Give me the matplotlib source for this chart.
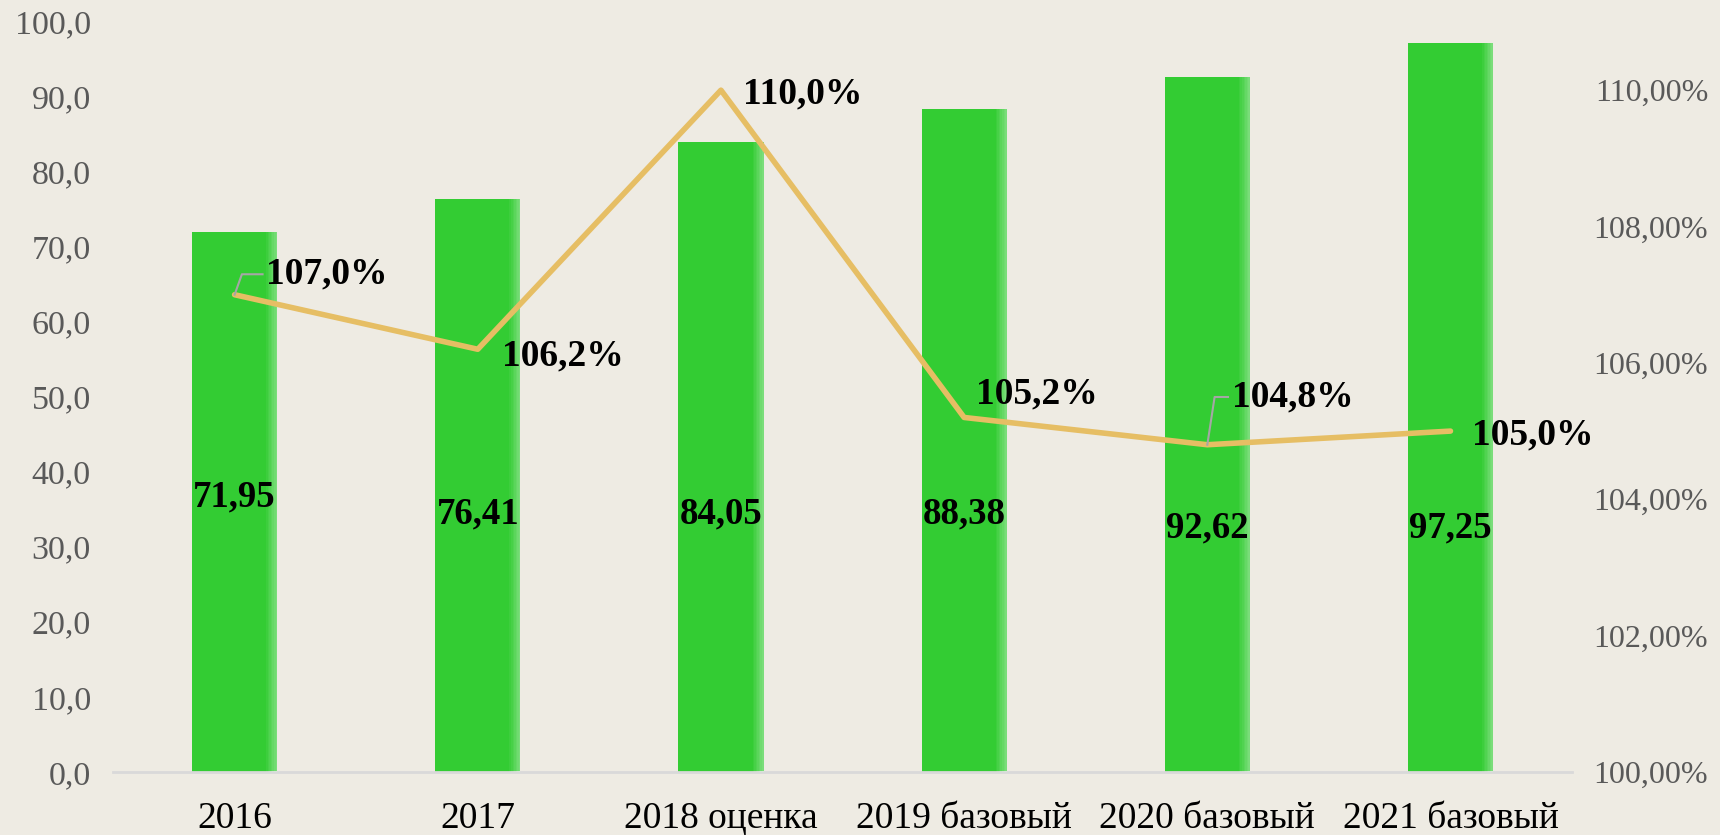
import matplotlib
matplotlib.use("Agg")
import matplotlib.pyplot as plt
from matplotlib.ticker import FuncFormatter, MultipleLocator

# data
categories = ["2016", "2017", "2018 оценка", "2019 базовый", "2020 базовый", "2021 базовый"]
volumes = [71.95, 76.41, 84.05, 88.38, 92.62, 97.25]
growth = [107.0, 106.2, 110.0, 105.2, 104.8, 105.0]

# where the labels sit (layout only)
bar_label_y = [36.7, 34.4, 34.4, 34.4, 32.5, 32.5]
growth_label_off = [(0.13, 0.3), (0.1, -0.1), (0.09, -0.05), (0.05, 0.35), (0.1, 0.7), (0.09, -0.05)]
leader = [True, False, False, False, True, False]

bg = "#EEEBE3"
green = "#33CC33"
gold = "#E6BE64"
tick_grey = "#595959"

plt.rcParams["font.family"] = ["Liberation Serif", "DejaVu Serif"]

fig = plt.figure(figsize=(17.2, 8.35), dpi=100)
fig.patch.set_facecolor(bg)
ax = fig.add_axes([0.0657, 0.0754, 0.914 - 0.0657, 0.9737 - 0.0754])
ax.set_facecolor(bg)

x = list(range(len(categories)))
w = 0.35
ax.bar(x, volumes, width=w, color=green, zorder=2)

# soft glow on the right edge of each bar
steps = 7
strip = 0.045 / steps
for i, v in enumerate(volumes):
    for k in range(steps):
        left = i + w / 2 - (steps - k) * strip
        ax.bar(left, v, width=strip, align="edge", color="white",
               alpha=0.05 + 0.05 * k, linewidth=0, zorder=3)

for i, v in enumerate(volumes):
    ax.text(i, bar_label_y[i], f"{v:.2f}".replace(".", ","), ha="center", va="center",
            fontsize=26.5, fontweight="bold", color="black", zorder=6)

ax.set_xlim(-0.5, len(categories) - 0.5)
ax.set_ylim(0, 100)
ax.yaxis.set_major_locator(MultipleLocator(10))
ax.yaxis.set_major_formatter(FuncFormatter(lambda v, p: f"{v:.1f}".replace(".", ",")))
ax.set_xticks(x)
ax.set_xticklabels(categories, fontsize=27, color="black")
ax.tick_params(axis="x", length=0, pad=21)
ax.tick_params(axis="y", length=0, labelsize=24.5, labelcolor=tick_grey, pad=16)
for s in ["top", "right", "left"]:
    ax.spines[s].set_visible(False)
ax.spines["bottom"].set_color("#D9D9D9")
ax.spines["bottom"].set_linewidth(2)

ax2 = ax.twinx()
ax2.plot(x, growth, color=gold, linewidth=4, zorder=5, solid_capstyle="round")
ax2.set_ylim(100, 111)
ax2.set_yticks([100, 102, 104, 106, 108, 110])
ax2.yaxis.set_major_formatter(FuncFormatter(lambda v, p: f"{v:.2f}".replace(".", ",") + "%"))
ax2.tick_params(axis="y", length=0, labelsize=23, labelcolor=tick_grey, pad=98)
for lbl in ax2.get_yticklabels():
    lbl.set_horizontalalignment("right")
for s in ax2.spines.values():
    s.set_visible(False)

for i, g in enumerate(growth):
    dx, dy = growth_label_off[i]
    tx, ty = i + dx, g + dy
    ax2.text(tx, ty, f"{g:.1f}".replace(".", ",") + "%", ha="left", va="center",
             fontsize=27, fontweight="bold", color="black", zorder=7)
    if leader[i]:
        ax2.plot([i, i + 0.03, tx - 0.015], [g, ty, ty], color="#A6A6A6",
                 linewidth=1.5, zorder=6)

fig.savefig("out.png", dpi=100, facecolor=bg)
